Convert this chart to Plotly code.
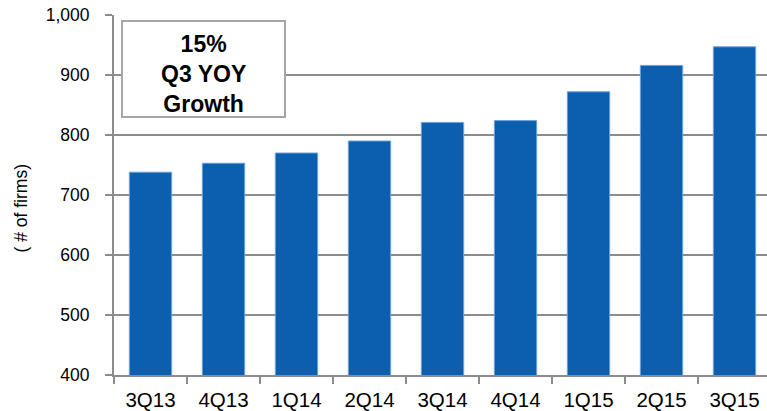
import plotly.graph_objects as go

quarters = ["3Q13", "4Q13", "1Q14", "2Q14", "3Q14", "4Q14", "1Q15", "2Q15", "3Q15"]
firms = [738, 753, 770, 790, 821, 824, 872, 916, 947]
y_ticks = [400, 500, 600, 700, 800, 900, 1000]

W, H = 767, 411
ml, mr, mt, mb = 114, 0, 15, 36

fig = go.Figure()
fig.add_trace(go.Bar(
    x=quarters, y=firms,
    marker=dict(color="#0B5FAE", line=dict(color="#6FA3D8", width=1)),
    width=0.58,
))

grid = "#8C8C8C"
fig.update_layout(
    width=W, height=H,
    margin=dict(l=ml, r=mr, t=mt, b=mb, pad=0),
    paper_bgcolor="white", plot_bgcolor="white",
    showlegend=False,
    font=dict(family="Liberation Sans, Arial, sans-serif", color="#000"),
    xaxis=dict(
        type="category", range=[-0.5, 8.445],
        showline=True, linecolor=grid, linewidth=2,
        ticks="outside", tickson="boundaries", ticklen=7, tickcolor=grid, tickwidth=2,
        tickfont=dict(size=20.5), showgrid=False, ticklabelstandoff=5,
    ),
    yaxis=dict(
        range=[400, 1000], tickvals=y_ticks, tickformat=",d",
        showline=True, linecolor=grid, linewidth=2,
        ticks="outside", ticklen=7, tickcolor=grid, tickwidth=2,
        showgrid=True, gridcolor=grid, gridwidth=2,
        tickfont=dict(size=17.5), ticklabelstandoff=12,
        zeroline=False,
    ),
)

pw = W - ml - mr
ph = H - mt - mb
def px(x):
    return (x - ml) / pw
def py(y):
    return (H - mb - y) / ph

fig.add_shape(type="rect", xref="paper", yref="paper",
              x0=px(122), x1=px(285), y0=py(117), y1=py(21),
              line=dict(color="#A6A6A6", width=2), fillcolor="white", layer="above")
fig.add_annotation(xref="paper", yref="paper", x=px(203.5), y=py(74),
                   xanchor="center", yanchor="middle",
                   text="<b>15%<br>Q3 YOY<br>Growth</b>", showarrow=False,
                   font=dict(size=23, color="#000"), align="center")
fig.add_annotation(xref="paper", yref="paper", x=px(20.5), y=py(209),
                   xanchor="center", yanchor="middle", textangle=-90,
                   text="( # of firms)", showarrow=False,
                   font=dict(size=17.5, color="#000"))

fig.write_html("out.html")
